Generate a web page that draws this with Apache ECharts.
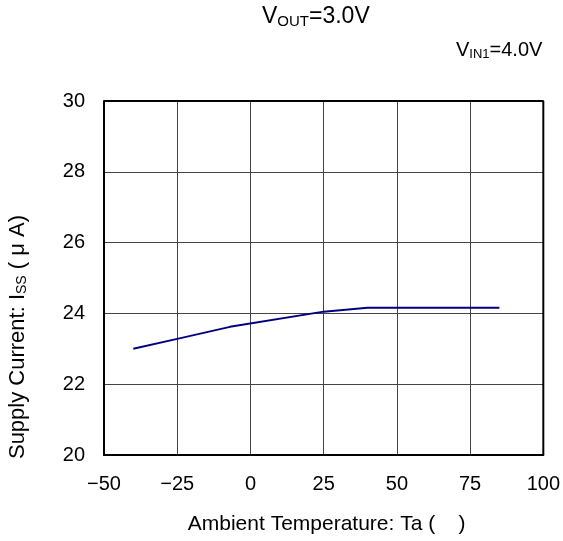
<!DOCTYPE html>
<html><head><meta charset="utf-8">
<script src="https://cdn.jsdelivr.net/npm/echarts@6/dist/echarts.min.js"></script>
<style>html,body{margin:0;padding:0;background:#fff}#c{width:563px;height:541px}</style>
</head><body><div id="c"></div>
<script>
const temps = [-40, -25, -7, 25, 40, 85];
const currents = [23.0, 23.28, 23.62, 24.05, 24.16, 24.16];
const xTicks = [-50, -25, 0, 25, 50, 75, 100];
const yTicks = [20, 22, 24, 26, 28, 30];

const chart = echarts.init(document.getElementById('c'), null, {renderer: 'canvas'});
const F = 'Arial, "Liberation Sans", Helvetica, sans-serif';
chart.setOption({
  animation: false,
  backgroundColor: '#fff',
  grid: {left: 104, right: 18, top: 101, bottom: 86},
  graphic: [
    {type: 'text', left: 262, top: 5, style: {
      text: '{a|V}{s|OUT}{a|=3.0V}',
      rich: {a: {fontSize: 23, fontFamily: F, fill: '#000'}, s: {fontSize: 15, fontFamily: F, fill: '#000', verticalAlign: 'bottom', padding: [10,0,0,0]}}
    }},
    {type: 'text', left: 456, top: 40, style: {
      text: '{a|V}{s|IN1}{a|=4.0V}',
      rich: {a: {fontSize: 20, fontFamily: F, fill: '#000'}, s: {fontSize: 13, fontFamily: F, fill: '#000', verticalAlign: 'bottom', padding: [8,0,0,0]}}
    }},
    {type: 'text', x: 18, y: 337, rotation: Math.PI / 2, style: {
      text: '{a|Supply Current: I}{s|SS}{a| ( μ A)}', align: 'center', verticalAlign: 'middle',
      rich: {a: {fontSize: 22, fontFamily: F, fill: '#000'}, s: {fontSize: 14, fontFamily: F, fill: '#000', verticalAlign: 'bottom', padding: [8,0,0,0]}}
    }}
  ],
  xAxis: {
    type: 'value', min: -50, max: 100, interval: 25,
    name: 'Ambient Temperature: Ta (    )', nameLocation: 'middle', nameGap: 59,
    nameTextStyle: {fontSize: 21, fontFamily: F, color: '#000', padding: [0, 0, 0, 6]},
    axisLine: {show: true, onZero: false, lineStyle: {color: '#000', width: 2}},
    axisTick: {show: false},
    axisLabel: {fontSize: 20, fontFamily: F, color: '#000', margin: 19,
      formatter: v => (v < 0 ? '\u2212' + Math.abs(v) : String(v))},
    splitLine: {show: true, lineStyle: {color: '#444', width: 1}}
  },
  yAxis: {
    type: 'value', min: 20, max: 30, interval: 2,
    axisLine: {show: true, onZero: false, lineStyle: {color: '#000', width: 2}},
    axisTick: {show: false},
    axisLabel: {fontSize: 20, fontFamily: F, color: '#000', margin: 19},
    splitLine: {show: true, lineStyle: {color: '#444', width: 1}}
  },
  series: [
    {type: 'line', data: temps.map((t, i) => [t, currents[i]]), symbol: 'none',
      lineStyle: {color: '#00007f', width: 2}},
    {type: 'line', data: [[-50, 30], [100, 30], [100, 20]], symbol: 'none', silent: true,
      lineStyle: {color: '#000', width: 2}}
  ]
});
</script></body></html>
